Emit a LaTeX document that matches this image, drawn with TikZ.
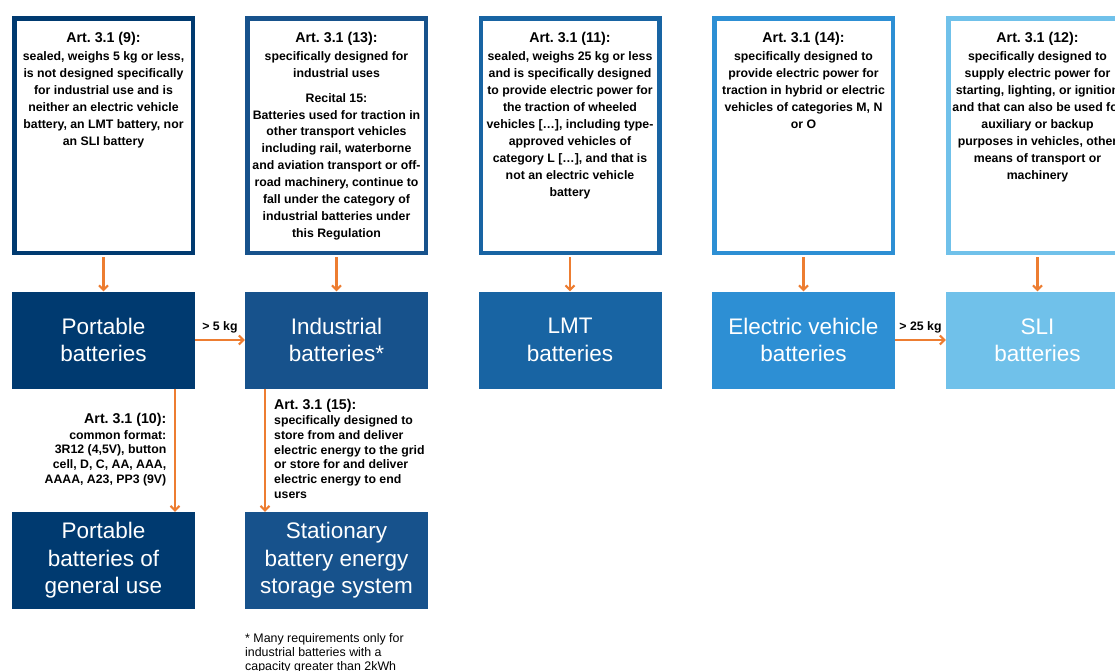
\documentclass[tikz,border=0pt]{standalone}
\usepackage{fontspec}
\setmainfont{Liberation Sans}
\usetikzlibrary{arrows.meta}
\tikzset{>={Straight Barb[length=4.5pt,width=9pt]}}
\definecolor{portblue}{RGB}{0,58,112}
\definecolor{indblue}{RGB}{23,82,140}
\definecolor{lmtblue}{RGB}{24,100,163}
\definecolor{evblue}{RGB}{45,143,212}
\definecolor{sliblue}{RGB}{112,193,234}
\definecolor{linkorange}{RGB}{237,125,49}
\tikzstyle{link}=[linkorange,line width=2.1pt,->]

\begin{document}
\frenchspacing
\begin{tikzpicture}[
    x=1pt,y=-1pt,
    frame/.style={draw=#1,line width=4.5pt,fill=white,inner sep=0pt,
                  minimum width=178.5pt,minimum height=234.5pt},
    cat/.style={fill=#1,text=white,inner sep=0pt,align=center,
                minimum width=183pt,minimum height=97pt,
                font=\fontsize{22.5}{27.5}\selectfont},
    deftext/.style={anchor=north,inner sep=0pt,align=center,
                    font=\bfseries\fontsize{12.3}{16.9}\selectfont},
    note/.style={inner sep=0pt,font=\bfseries\fontsize{12.3}{14.7}\selectfont},
    kg/.style={midway,above=6pt,inner sep=0pt,text=black,
               font=\bfseries\fontsize{12.3}{14}\selectfont}
  ]

  \def\arttitle#1{{\fontsize{14.2}{17}\selectfont #1}\\[1pt]}
  \def\yf{135.5}  % definition boxes
  \def\yc{340}    % category boxes
  \def\yg{560.5}  % sub-category boxes
  \def\yt{32.5}   % top of definition texts

  \useasboundingbox (0,0) rectangle (1115,670);

  % DEFINITIONS
  \node[frame=portblue] (def9)  at (103.5,\yf) {};
  \node[frame=indblue]  (def13) at (336.5,\yf) {};
  \node[frame=lmtblue]  (def11) at (570,\yf)   {};
  \node[frame=evblue]   (def14) at (803.5,\yf) {};
  \node[frame=sliblue]  (def12) at (1037.5,\yf) {};

  \node[deftext] (txt9) at (103.5,\yt) {\arttitle{Art. 3.1 (9):}
    sealed, weighs 5 kg or less,\\ is not designed specifically\\
    for industrial use and is\\ neither an electric vehicle\\
    battery, an LMT battery, nor\\ an SLI battery};
  \node[deftext] (txt13) at (336.5,\yt) {\arttitle{Art. 3.1 (13):}
    specifically designed for\\ industrial uses\\[7.5pt]
    Recital 15:\\ Batteries used for traction in\\ other transport vehicles\\
    including rail, waterborne\\ and aviation transport or off-\\
    road machinery, continue to\\ fall under the category of\\
    industrial batteries under\\ this Regulation};
  \node[deftext] (txt11) at (570,\yt) {\arttitle{Art. 3.1 (11):}
    sealed, weighs 25 kg or less\\ and is specifically designed\\
    to provide electric power for\\ the traction of wheeled\\
    vehicles […], including type-\\ approved vehicles of\\
    category L […], and that is\\ not an electric vehicle\\ battery};
  \node[deftext] (txt14) at (803.5,\yt) {\arttitle{Art. 3.1 (14):}
    specifically designed to\\ provide electric power for\\
    traction in hybrid or electric\\ vehicles of categories M, N\\ or O};
  \node[deftext] (txt12) at (1037.5,\yt) {\arttitle{Art. 3.1 (12):}
    specifically designed to\\ supply electric power for\\
    starting, lighting, or ignition\\ and that can also be used for\\
    auxiliary or backup\\ purposes in vehicles, other\\
    means of transport or\\ machinery};

  % CATEGORIES
  \node[cat=portblue] (port) at (103.5,\yc)  {Portable\\batteries};
  \node[cat=indblue]  (ind)  at (336.5,\yc)  {Industrial\\batteries*};
  \node[cat=lmtblue]  (lmt)  at (570,\yc)    {LMT\\batteries};
  \node[cat=evblue]   (ev)   at (803.5,\yc)  {Electric vehicle\\batteries};
  \node[cat=sliblue]  (sli)  at (1037.5,\yc) {SLI\\batteries};

  \node[cat=portblue] (gen)  at (103.5,\yg) {Portable\\batteries of\\general use};
  \node[cat=indblue]  (bess) at (336.5,\yg) {Stationary\\battery energy\\storage system};

  % NOTES
  \node[note,anchor=north east,align=right] (art10) at (166.5,413)
    {\arttitle{Art. 3.1 (10):} common format:\\ 3R12 (4,5V), button\\
     cell, D, C, AA, AAA,\\ AAAA, A23, PP3 (9V)};
  \node[note,anchor=north west,align=left] (art15) at (274,398.5)
    {\arttitle{Art. 3.1 (15):} specifically designed to\\ store from and deliver\\
     electric energy to the grid\\ or store for and deliver\\
     electric energy to end\\ users};
  \node[inner sep=0pt,anchor=north west,align=left,
        font=\fontsize{12.4}{14}\selectfont] (foot) at (245,633)
    {* Many requirements only for\\ industrial batteries with a\\
     capacity greater than 2kWh};

  % LINKS
  \foreach \d/\c in {def9/port,def13/ind,def11/lmt,def14/ev,def12/sli}
    \draw[link,shorten <=2.25pt] (\d.south) -- (\c.north);
  \draw[link] (port) -- (ind) node[kg] (kg5) {> 5 kg};
  \draw[link] (ev) -- (sli) node[kg] (kg25) {> 25 kg};
  \draw[link] ([xshift=71.5pt]port.south) -- ([xshift=71.5pt]gen.north);
  \draw[link] ([xshift=-71.5pt]ind.south) -- ([xshift=-71.5pt]bess.north);

\end{tikzpicture}
\end{document}
